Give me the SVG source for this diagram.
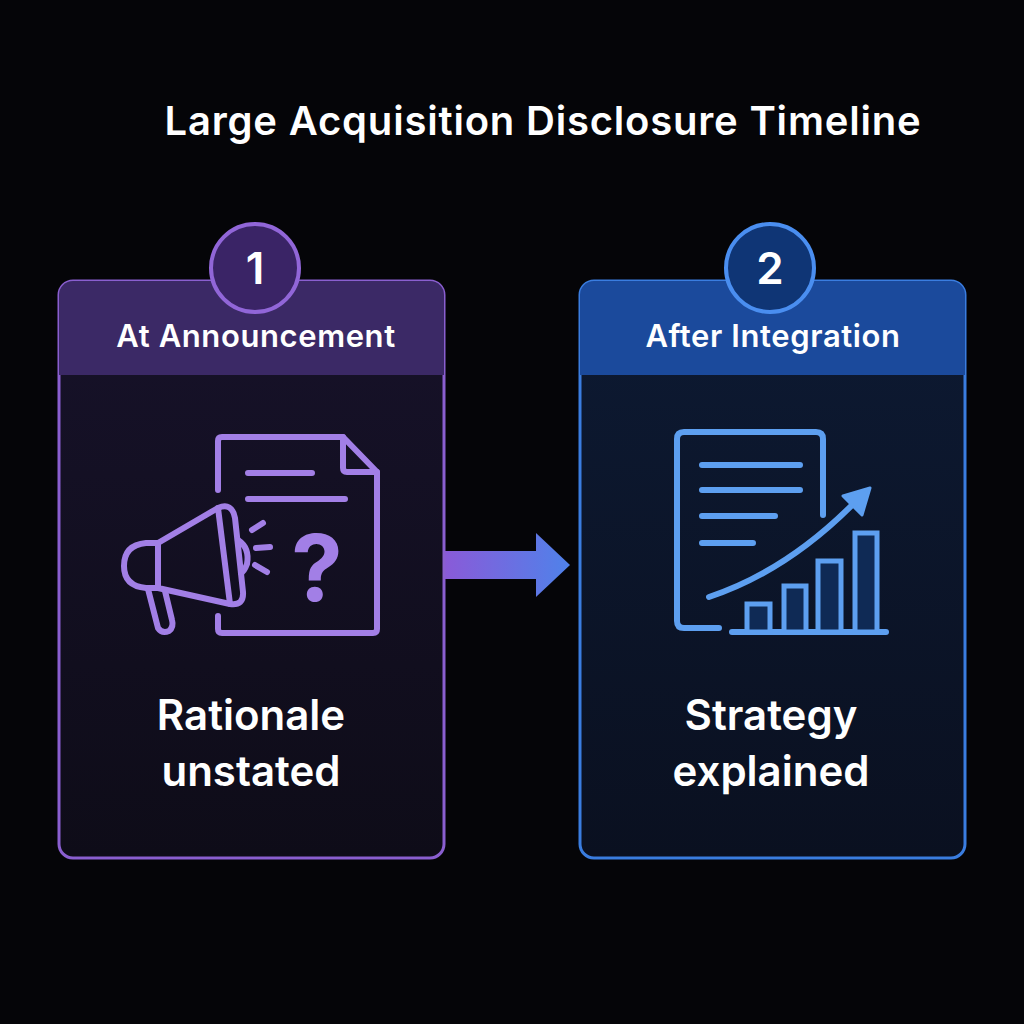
<svg xmlns="http://www.w3.org/2000/svg" width="1024" height="1024" viewBox="0 0 1024 1024">
<defs>
<linearGradient id="ag" x1="0" x2="1"><stop offset="0" stop-color="#8a5ad8"/><stop offset="1" stop-color="#4f82ea"/></linearGradient>
<linearGradient id="lc" x1="0" y1="0" x2="0" y2="1"><stop offset="0" stop-color="#17122a"/><stop offset="1" stop-color="#0e0c18"/></linearGradient>
<linearGradient id="rc" x1="0" y1="0" x2="0" y2="1"><stop offset="0" stop-color="#0d1a33"/><stop offset="1" stop-color="#0a1020"/></linearGradient>
</defs>
<style>
.t{font-family:Inter,"Liberation Sans",sans-serif;fill:#fff;text-anchor:middle}
.pi{fill:none;stroke:#a27fe6;stroke-width:6;stroke-linecap:round;stroke-linejoin:round}
.bi{fill:none;stroke:#5d9ff0;stroke-width:6;stroke-linecap:round;stroke-linejoin:round}
</style>
<rect width="1024" height="1024" fill="#050508"/>
<text class="t" x="543" y="135" font-size="40" font-weight="600" letter-spacing="0.8">Large Acquisition Disclosure Timeline</text>
<g id="connectors">
<path d="M444 551 H536 V533 L570 565 L536 597 V579 H444 Z" fill="url(#ag)"/>
</g>
<g id="node1">
<rect x="59" y="281" width="385" height="577" rx="14" fill="url(#lc)" stroke="#8a5fd0" stroke-width="3"/>
<path d="M59 375 V295 a14 14 0 0 1 14 -14 H430 a14 14 0 0 1 14 14 V375 Z" fill="#3b2966"/>
<circle cx="255" cy="268" r="44" fill="#3a2466" stroke="#9166d8" stroke-width="4"/>
<text class="t" x="255" y="284" font-size="44" font-weight="600">1</text>
<text class="t" x="256" y="347" font-size="31" font-weight="600" letter-spacing="0.6">At Announcement</text>
<path class="pi" d="M218 490 V441 q0 -4 4 -4 H343 L377 472 V629 q0 4 -4 4 H222 q-4 0 -4 -4 V616"/>
<path class="pi" d="M343 437 V468 q0 4 4 4 H377"/>
<path class="pi" d="M248 473 H312 M248 499 H345"/>
<path class="pi" d="M252 530 L263 523 M256 548 L270 547 M255 565 L267 572"/>
<path class="pi" d="M158 543 L218 508 Q232 502 235 518 L243 592 Q244 606 230 604 L158 588 Z"/>
<path class="pi" d="M158 543 H146 Q124 545 124 566 Q124 586 146 588 H158 Z M218 508 L230 604"/>
<path class="pi" d="M238 540 Q250 548 247 564 Q244 572 241 573"/>
<path class="pi" d="M148 589 L158 628 Q162 634 169 631 Q174 627 172 620 L165 591"/>
<text class="t" x="317" y="601" font-size="92" font-weight="700" style="fill:#a27fe6">?</text>
<text class="t" x="251" y="730" font-size="42" font-weight="600">Rationale</text>
<text class="t" x="251" y="786" font-size="42" font-weight="600">unstated</text>
</g>
<g id="node2">
<rect x="580" y="281" width="385" height="577" rx="14" fill="url(#rc)" stroke="#3a7de0" stroke-width="3"/>
<path d="M580 375 V295 a14 14 0 0 1 14 -14 H951 a14 14 0 0 1 14 14 V375 Z" fill="#1b4a9c"/>
<circle cx="770" cy="268" r="44" fill="#0f3575" stroke="#4a8ef0" stroke-width="4"/>
<text class="t" x="770" y="284" font-size="44" font-weight="600">2</text>
<text class="t" x="773" y="347" font-size="31" font-weight="600" letter-spacing="0.6">After Integration</text>
<path class="bi" d="M719 628 H684 q-7 0 -7 -7 V439 q0 -7 7 -7 H816 q7 0 7 7 V515"/>
<path class="bi" d="M702 465 H800 M702 490 H800 M702 516 H775 M702 543 H753"/>
<path class="bi" d="M709 597 Q790 570 860 497"/>
<path d="M870 488 L843 496 L862 515 Z" fill="#5d9ff0" stroke="#5d9ff0" stroke-width="3" stroke-linejoin="round"/>
<path class="bi" d="M732 632 H886"/>
<g fill="#0f2a55" stroke="#5d9ff0" stroke-width="5">
<rect x="747" y="604" width="23" height="28"/><rect x="784" y="586" width="22" height="46"/><rect x="818" y="561" width="23" height="71"/><rect x="855" y="533" width="22" height="99"/>
</g>
<text class="t" x="771" y="730" font-size="42" font-weight="600">Strategy</text>
<text class="t" x="771" y="786" font-size="42" font-weight="600">explained</text>
</g>
</svg>
